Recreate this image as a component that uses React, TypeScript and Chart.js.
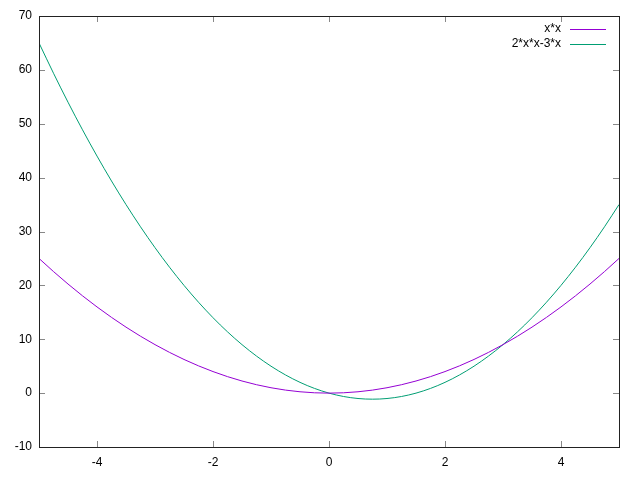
import { useEffect, useRef } from "react";
import { Chart, registerables } from "chart.js";

Chart.register(...registerables);

const xValues = [
  -5, -4.75, -4.5, -4.25, -4, -3.75, -3.5, -3.25, -3, -2.75, -2.5, -2.25, -2, -1.75, -1.5, -1.25, -1, -0.75, -0.5, -0.25,
  0, 0.25, 0.5, 0.75, 1, 1.25, 1.5, 1.75, 2, 2.25, 2.5, 2.75, 3, 3.25, 3.5, 3.75, 4, 4.25, 4.5, 4.75, 5,
];
const squareValues = [
  25, 22.5625, 20.25, 18.0625, 16, 14.0625, 12.25, 10.5625, 9, 7.5625, 6.25, 5.0625, 4, 3.0625, 2.25, 1.5625, 1, 0.5625, 0.25, 0.0625,
  0, 0.0625, 0.25, 0.5625, 1, 1.5625, 2.25, 3.0625, 4, 5.0625, 6.25, 7.5625, 9, 10.5625, 12.25, 14.0625, 16, 18.0625, 20.25, 22.5625, 25,
];
const quadValues = [
  65, 59.375, 54, 48.875, 44, 39.375, 35, 30.875, 27, 23.375, 20, 16.875, 14, 11.375, 9, 6.875, 5, 3.375, 2, 0.875,
  0, -0.625, -1, -1.125, -1, -0.625, 0, 0.875, 2, 3.375, 5, 6.875, 9, 11.375, 14, 16.875, 20, 23.375, 27, 30.875, 35,
];
const seriesLabels = ["x*x", "2*x*x-3*x"];
const seriesColors = ["#9400d3", "#009e73"];
const xTickValues = [-4, -2, 0, 2, 4];
const yTickValues = [-10, 0, 10, 20, 30, 40, 50, 60, 70];

const FONT = "12px 'Liberation Sans', Arial, sans-serif";

const framePlugin = {
  id: "gnuplotFrame",
  afterDatasetsDraw(chart: any) {
    const { ctx, chartArea, scales } = chart;
    const { left, right, top, bottom } = chartArea;
    ctx.save();
    // inward mirrored ticks
    ctx.strokeStyle = "#888";
    ctx.lineWidth = 1;
    const tl = 6;
    ctx.beginPath();
    for (const v of xTickValues) {
      const x = Math.round(scales.x.getPixelForValue(v)) + 0.5;
      ctx.moveTo(x, bottom);
      ctx.lineTo(x, bottom - tl);
      ctx.moveTo(x, top);
      ctx.lineTo(x, top + tl);
    }
    for (const v of yTickValues) {
      const y = Math.round(scales.y.getPixelForValue(v)) + 0.5;
      ctx.moveTo(left, y);
      ctx.lineTo(left + tl, y);
      ctx.moveTo(right, y);
      ctx.lineTo(right - tl, y);
    }
    ctx.stroke();
    // border
    ctx.strokeStyle = "#222";
    ctx.lineWidth = 1;
    ctx.strokeRect(Math.round(left) + 0.5, Math.round(top) + 0.5, Math.round(right - left), Math.round(bottom - top));
    // legend
    ctx.font = FONT;
    ctx.textAlign = "right";
    ctx.textBaseline = "middle";
    chart.data.datasets.forEach((ds: any, i: number) => {
      const y = 29 + i * 14.5;
      ctx.fillStyle = "#000";
      ctx.fillText(ds.label, right - 58, y);
      ctx.strokeStyle = ds.borderColor;
      ctx.lineWidth = 1;
      ctx.beginPath();
      ctx.moveTo(right - 49, Math.round(y) + 0.5);
      ctx.lineTo(right - 13, Math.round(y) + 0.5);
      ctx.stroke();
    });
    ctx.restore();
  },
};

export default function App() {
  const ref = useRef<HTMLCanvasElement>(null);
  useEffect(() => {
    document.body.style.margin = "0";
    const canvas = ref.current!;
    const chart = new Chart(canvas, {
      type: "scatter",
      data: {
        datasets: [
          {
            label: seriesLabels[0],
            data: xValues.map((x, i) => ({ x, y: squareValues[i] })),
            borderColor: seriesColors[0],
            backgroundColor: seriesColors[0],
            borderWidth: 1,
            showLine: true,
            pointRadius: 0,
            cubicInterpolationMode: "monotone",
          },
          {
            label: seriesLabels[1],
            data: xValues.map((x, i) => ({ x, y: quadValues[i] })),
            borderColor: seriesColors[1],
            backgroundColor: seriesColors[1],
            borderWidth: 1,
            showLine: true,
            pointRadius: 0,
            cubicInterpolationMode: "monotone",
          },
        ],
      },
      options: {
        animation: false,
        responsive: false,
        devicePixelRatio: 1,
        layout: { padding: { top: 16, right: 21, left: 0, bottom: 0 } },
        plugins: { legend: { display: false }, tooltip: { enabled: false } },
        scales: {
          x: {
            type: "linear",
            min: -5,
            max: 5,
            afterBuildTicks: (s: any) => {
              s.ticks = xTickValues.map((v) => ({ value: v }));
            },
            afterFit: (s: any) => {
              s.height = 31;
            },
            grid: { display: false, drawTicks: false },
            border: { display: false },
            ticks: {
              color: "#000",
              padding: 8,
              maxRotation: 0,
              font: { family: "'Liberation Sans', Arial, sans-serif", size: 12 },
            },
          },
          y: {
            type: "linear",
            min: -10,
            max: 70,
            afterBuildTicks: (s: any) => {
              s.ticks = yTickValues.map((v) => ({ value: v }));
            },
            afterFit: (s: any) => {
              s.width = 39;
            },
            grid: { display: false, drawTicks: false },
            border: { display: false },
            ticks: {
              color: "#000",
              padding: 7,
              font: { family: "'Liberation Sans', Arial, sans-serif", size: 12 },
            },
          },
        },
      },
      plugins: [framePlugin],
    } as any);
    return () => chart.destroy();
  }, []);
  return <canvas ref={ref} width={640} height={478} style={{ display: "block" }} />;
}
